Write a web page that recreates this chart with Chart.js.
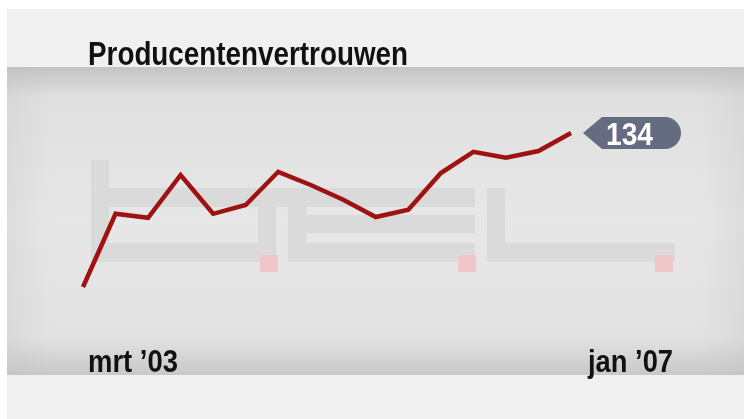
<!DOCTYPE html>
<html lang="nl">
<head>
    <meta charset="UTF-8">
    <title>Producentenvertrouwen</title>
    <style>
        html, body { margin: 0; padding: 0; background: #ffffff; }
        #wrap { position: relative; width: 744px; height: 419px; }
        canvas { display: block; }
    </style>
</head>
<body>
    <div id="wrap"><canvas id="chart" width="744" height="419"></canvas></div>

    <script src="https://cdn.jsdelivr.net/npm/chart.js"></script>
    <script>
        const chartTitle = 'Producentenvertrouwen';
        const months = ["mrt ’03", "jun ’03", "sep ’03", "dec ’03", "mrt ’04", "jun ’04", "sep ’04", "dec ’04",
                        "mrt ’05", "jun ’05", "sep ’05", "dec ’05", "mrt ’06", "jun ’06", "sep ’06", "jan ’07"];
        const confidence = [95.5, 113.8, 112.8, 123.5, 113.8, 116, 124.3, 121, 117.3, 113, 114.8, 124, 129.3, 127.8, 129.5, 134];
        const endLabels = [months[0], months[months.length - 1]];

        const FONT = '"Liberation Sans", Arial, sans-serif';

        // condensed look: squeeze the text horizontally to a given width
        function narrowText(c, text, x, y, width, size) {
            c.font = 'bold ' + size + 'px ' + FONT;
            const w = c.measureText(text).width;
            c.save();
            c.translate(x, y);
            c.scale(width / w, 1);
            c.textAlign = 'left';
            c.fillText(text, 0, 0);
            c.restore();
        }

        const backdrop = {
            id: 'backdrop',
            beforeDraw(chart) {
                const c = chart.ctx;
                c.save();
                c.fillStyle = '#ffffff';
                c.fillRect(0, 0, 744, 419);
                c.fillStyle = '#f0f0f0';
                c.fillRect(7, 9, 737, 58);
                c.fillStyle = '#f1f1f1';
                c.fillRect(7, 375, 737, 44);

                let g = c.createLinearGradient(0, 67, 0, 375);
                g.addColorStop(0, '#c4c4c4');
                g.addColorStop(0.1, '#e0e0e0');
                g.addColorStop(0.5, '#e7e7e7');
                g.addColorStop(0.88, '#e2e2e2');
                g.addColorStop(1, '#c8c8c8');
                c.fillStyle = g;
                c.fillRect(7, 67, 737, 308);
                let h = c.createLinearGradient(7, 0, 744, 0);
                h.addColorStop(0, 'rgba(190,190,190,0.25)');
                h.addColorStop(0.06, 'rgba(190,190,190,0)');
                h.addColorStop(0.94, 'rgba(190,190,190,0)');
                h.addColorStop(1, 'rgba(190,190,190,0.25)');
                c.fillStyle = h;
                c.fillRect(7, 67, 737, 308);

                // faint logo watermark
                c.fillStyle = '#dadada';
                const bars = [
                    [91, 160, 18, 102], [91, 188, 384, 19], [258, 188, 18, 74], [91, 243, 185, 19],
                    [288, 207, 18, 55], [288, 215, 187, 18], [288, 243, 187, 19],
                    [487, 188, 18, 74], [487, 243, 188, 19]
                ];
                bars.forEach(b => c.fillRect(b[0], b[1], b[2], b[3]));
                c.fillStyle = '#efc6ca';
                [260, 458, 655].forEach(x => c.fillRect(x, 255, 18, 17));

                c.fillStyle = '#111111';
                c.textBaseline = 'alphabetic';
                narrowText(c, chartTitle, 88, 65, 320, 33);
                narrowText(c, endLabels[0], 88, 372, 90, 31);
                narrowText(c, endLabels[1], 588, 372, 85, 31);
                c.restore();
            },
            afterDatasetsDraw(chart) {
                const meta = chart.getDatasetMeta(0);
                const last = meta.data[meta.data.length - 1];
                const c = chart.ctx;
                const x0 = last.x + 12, y0 = last.y, hh = 16;
                c.save();
                c.fillStyle = '#656b80';
                c.beginPath();
                c.moveTo(x0, y0);
                c.lineTo(x0 + 19, y0 - hh);
                c.lineTo(x0 + 82, y0 - hh);
                c.arc(x0 + 82, y0, hh, -Math.PI / 2, Math.PI / 2);
                c.lineTo(x0 + 19, y0 + hh);
                c.closePath();
                c.fill();
                c.fillStyle = '#ffffff';
                c.textBaseline = 'alphabetic';
                narrowText(c, String(confidence[confidence.length - 1]), x0 + 23, y0 + 12, 47, 31);
                c.restore();
            }
        };

        new Chart(document.getElementById('chart'), {
            type: 'line',
            data: {
                labels: months,
                datasets: [{
                    data: confidence,
                    borderColor: '#9e1212',
                    borderWidth: 4.5,
                    pointRadius: 0,
                    tension: 0,
                    fill: false,
                    clip: false
                }]
            },
            options: {
                responsive: false,
                animation: false,
                layout: { padding: { left: 83, right: 173, top: 109, bottom: 110 } },
                plugins: { legend: { display: false }, tooltip: { enabled: false } },
                scales: {
                    x: { display: false, offset: false },
                    y: { display: false, min: 90, max: 140 }
                }
            },
            plugins: [backdrop]
        });
    </script>
</body>
</html>
